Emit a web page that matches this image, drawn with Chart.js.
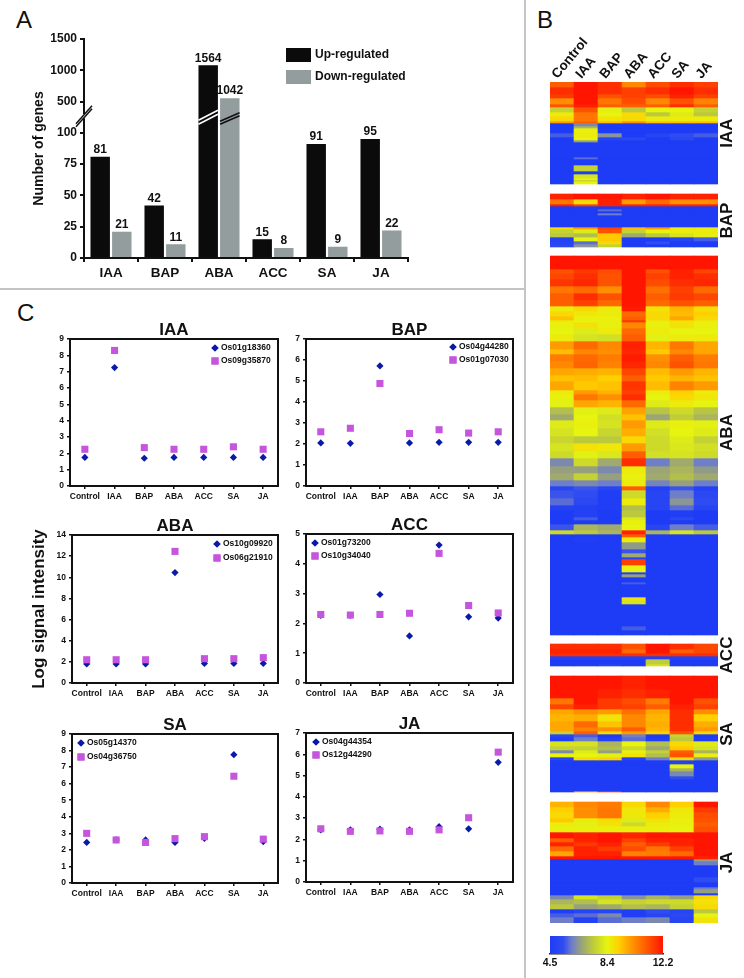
<!doctype html>
<html>
<head>
<meta charset="utf-8">
<title>Phytohormone responsive genes</title>
<script src="https://cdn.jsdelivr.net/npm/chart.js@4"></script>
<style>
html,body{margin:0;background:#fff}
body{position:relative;width:744px;height:978px;overflow:hidden;font-family:"Liberation Sans",Arial,sans-serif}
canvas{position:absolute}
.letter{position:absolute;font-size:24px;line-height:24px;color:#111}
.rule{position:absolute;background:#c4c4c4}
</style>
</head>
<body>
<div class="rule" style="left:0;top:288px;width:524px;height:2px"></div>
<div class="rule" style="left:524px;top:0;width:2px;height:978px"></div>
<div class="letter" style="left:16px;top:8px">A</div>
<div class="letter" style="left:537px;top:8px">B</div>
<div class="letter" style="left:17px;top:301px">C</div>
<script>
// panel A
const hormones = ["IAA","BAP","ABA","ACC","SA","JA"];
const upHeights = [81,42,1080,15,91,95];
const downHeights = [21,11,555,8,9,22];
const upLabels = [81,42,1564,15,91,95];
const downLabels = [21,11,1042,8,9,22];
const axisTicksA = ["0","25","50","75","100","500","1000","1500"];

// panel C
const samples = ["Control","IAA","BAP","ABA","ACC","SA","JA"];
const iaaGenes = ["Os01g18360","Os09g35870"];
const iaaBlue = [1.75,7.25,1.7,1.75,1.75,1.75,1.75];
const iaaPink = [2.25,8.3,2.35,2.25,2.25,2.4,2.25];
const bapGenes = ["Os04g44280","Os01g07030"];
const bapBlue = [2.05,2.03,5.72,2.05,2.08,2.08,2.08];
const bapPink = [2.58,2.75,4.88,2.5,2.68,2.52,2.58];
const abaGenes = ["Os10g09920","Os06g21910"];
const abaBlue = [1.8,1.8,1.8,10.45,1.85,1.85,1.85];
const abaPink = [2.2,2.2,2.2,12.45,2.3,2.3,2.4];
const accGenes = ["Os01g73200","Os10g34040"];
const accBlue = [2.27,2.27,2.97,1.58,4.63,2.22,2.18];
const accPink = [2.3,2.28,2.3,2.34,4.35,2.6,2.35];
const saGenes = ["Os05g14370","Os04g36750"];
const saBlue = [2.45,2.6,2.6,2.45,2.7,7.75,2.5];
const saPink = [3,2.6,2.45,2.68,2.8,6.45,2.65];
const jaGenes = ["Os04g44354","Os12g44290"];
const jaBlue = [2.45,2.45,2.48,2.45,2.6,2.5,5.62];
const jaPink = [2.5,2.38,2.4,2.38,2.45,3.02,6.1];

// panel B: [rows, Control, IAA, BAP, ABA, ACC, SA, JA]
const heatIAA = [
  [5,11,12.2,11.8,10.3,11.3,11.8,11.5],[7,11.8,12.2,11.8,11.5,11.8,12.2,11.8],[4,11.6,12.2,11.2,11.5,11.3,12,11.5],
  [6,10.2,12.2,10.6,11.3,10.3,11.2,10.4],[3,11.2,12,11,11,11,11.8,11],[5,7.6,11.2,8.3,7.4,8.4,8.4,7.6],
  [4,8.6,10.6,8.4,9,7.4,8.2,7.4],[5,9,10.6,8.8,9,8.6,8.6,8.6],[2,10,11,9.5,10.2,9.5,9.5,9.5],
  [3,4.5,6.2,4.5,4.5,4.5,4.5,4.5],[2,4.5,7,4.5,4.5,4.5,4.5,4.5],[5,4.5,8.5,4.5,4.5,4.5,4.5,4.5],
  [4,5.6,8.6,6.4,4.5,5,5.4,5.6],[3,4.5,8.4,5,5.2,4.5,5.2,4.5],[2,4.5,6.6,4.5,4.5,4.5,4.5,4.5],
  [15,4.5,4.5,4.5,4.5,4.5,4.5,4.5],[2,4.5,5.8,4.5,4.5,4.5,4.5,4.5],[6,4.5,4.5,4.5,4.5,4.5,4.5,4.5],
  [6,4.5,7.6,4.5,4.5,4.5,4.5,4.5],[3,4.5,4.5,4.5,4.5,4.5,4.5,4.5],[4,4.5,8,4.5,4.5,4.5,4.5,4.5],
  [2,4.5,8.4,4.5,4.5,4.5,4.5,4.5],[1,4.5,7.4,4.5,4.5,4.5,4.5,4.5],[3,4.5,8.4,4.5,4.5,4.5,4.5,4.5]
];
const heatBAP = [
  [5,12,12.2,12.2,12,12.2,12,12],[5,10.6,9,12,10,10.8,10.2,10.2],[2,12,11.5,12,12,12,12,12],
  [3,4.5,4.5,4.5,4.5,4.5,4.5,4.5],[2,4.5,4.5,5.8,4.5,4.5,4.5,4.5],[2,4.5,4.5,4.5,4.5,4.5,4.5,4.5],
  [2,4.5,4.5,6,4.5,4.5,4.5,4.5],[12,4.5,4.5,4.5,4.5,4.5,4.5,4.5],[2,9,10,11.5,9.5,10,8.6,8.6],
  [4,7.6,8.2,11.2,7.6,8.5,8.6,8.6],[4,7.4,7.2,9.3,6.8,7.4,8,8.3],[4,4.8,8.4,9.3,4.5,4.5,5,5.6],
  [3,5,5.8,9,4.5,5.4,4.5,4.5],[3,5.2,6.4,7.6,4.5,4.5,4.5,4.5]
];
const heatABA = [
  [13,12.2,12.2,12.2,12.2,12.2,12.2,12.2],[4,11.2,11.6,11.3,12.2,11.2,12,11.4],[6,11.4,11.8,11.2,12.2,11.5,12,11.8],
  [7,11.7,11.9,11.2,12.2,11.3,11.8,11.9],[7,10.6,10.8,10.2,12.2,10.7,11.5,10.8],[7,11,11.8,11.2,12.2,11,11.6,11.4],
  [6,11,11.5,10.8,12.2,10.8,11.2,11],[5,8.6,9,8.6,12.1,8.8,9.6,8.9],[5,9,8.7,8.6,10.8,9,9.5,9.2],
  [4,9.4,8.5,8.5,11,9,9.8,9],[2,8.6,8.4,8.5,11.7,8.6,8.8,8.6],[6,8.5,8.8,8.5,10.3,8.5,8.8,8.5],
  [6,8.4,8.2,8.6,10.8,8.6,8.4,8.4],[7,8.6,8,7.9,11,8.3,8.6,8.6],[8,10,10.8,10.3,12,9.6,10.6,9.8],
  [5,9.5,10.3,10.2,11.9,9.3,10.3,9.8],[7,10.5,10.8,10.5,12.1,10.2,11,10.5],[7,10.3,10.9,10.4,11.9,10.3,11.2,10.6],
  [7,9.8,9.7,9.6,11.4,9.5,10,9.6],[6,9.4,9.5,9.2,11,9.3,9.6,9.4],[9,9.8,9.3,9.4,11.7,9.5,10.4,10],
  [4,8.6,10,9.6,11.5,8.6,9.2,8.6],[6,8.5,10.6,10.2,11.8,8.4,9,8.7],[7,8.3,9.8,9.6,10.8,8.2,8.6,8.4],
  [7,7.2,8.3,8.2,9.9,7.3,7.8,7.3],[6,6.8,8.4,7.9,9.4,6.7,7.5,7],[8,8.2,8.5,8,10,8.2,8.5,8.3],
  [8,8,8.4,7.7,9.7,7.9,8.4,8.2],[7,7.7,7.4,7.4,9,7.8,8.2,7.6],[8,8,8.8,8.7,10,7.8,8.1,7.9],
  [7,7.8,8.3,8.1,11,7.9,8,7.8],[8,6.2,7.8,6.8,11.8,6,6.8,6],[7,6.6,6.6,6.2,8.6,6.7,7,6.5],
  [7,6.8,7.6,6.6,8.5,6.8,7.2,6.8],[6,6,6.2,6,8.6,6.1,6.6,6],[4,5,5.5,5,11,4.7,5.5,4.8],
  [8,5.5,5.4,4.6,7.8,5,6,5.2],[7,5.8,5.2,4.6,8.6,5,6.4,5.4],[5,4.8,4.7,4.6,7.2,5,5.8,5],
  [7,4.5,4.8,4.5,7.4,4.5,4.6,4.5],[3,4.5,5.6,4.5,8.2,4.5,5.2,4.5],[4,4.5,4.5,4.5,8.5,4.5,4.5,4.5],
  [6,5.5,7,6.8,8.4,5,6,5.6],[4,7.8,7.4,7,12,7,8,7.4],[3,4.5,4.5,4.5,11,4.5,4.5,4.5],
  [5,4.5,4.6,4.5,8.6,4.5,4.5,4.5],[7,4.5,4.5,4.5,6.5,4.5,4.5,4.5],[4,4.5,4.5,4.5,5.5,4.5,4.5,4.5],
  [4,4.5,4.5,4.5,6.8,4.5,4.5,4.5],[2,4.5,4.5,4.5,5,4.5,4.5,4.5],[6,4.5,4.5,4.5,11.5,4.5,4.5,4.5],
  [7,4.5,4.5,4.5,8.4,4.5,4.5,4.5],[2,4.5,4.5,4.5,4.8,4.5,4.5,4.5],[3,4.5,4.5,4.5,6.6,4.5,4.5,4.5],
  [5,4.5,4.5,4.5,4.5,4.5,4.5,4.5],[2,4.5,4.5,4.5,5.6,4.5,4.5,4.5],[13,4.5,4.5,4.5,4.5,4.5,4.5,4.5],
  [3,4.5,4.5,4.5,8.8,4.5,4.5,4.5],[4,4.5,4.5,4.5,8,4.5,4.5,4.5],[22,4.5,4.5,4.5,4.5,4.5,4.5,4.5],
  [4,4.5,4.5,4.5,5.6,4.5,4.5,4.5],[5,4.5,4.5,4.5,4.5,4.5,4.5,4.5]
];
const heatACC = [
  [5,11.8,11.8,11.8,11.2,12.2,11.8,11.4],[4,12,12,12,10.8,12.2,11,11.4],[3,11.8,11.8,11.8,11.8,11.8,11.8,11.8],
  [3,4.7,4.7,4.7,4.7,4.7,4.7,4.7],[5,4.5,4.5,4.5,4.5,7.5,4.5,4.5],[2,4.5,4.6,5,4.5,8,4.5,4.5]
];
const heatSA = [
  [13,12.2,12.2,12.2,12,12.2,12.2,12.2],[9,12.2,12.2,12,11.8,12,12.2,12.2],[6,10.6,12.2,11.6,11.3,10.5,12.2,11.2],
  [5,11.4,12,11.6,11.5,11,12,11.5],[5,9.8,10.2,10,10.7,9.8,11.8,10.2],[7,9.6,9.7,8.8,10.3,9.6,11.8,9.2],
  [6,9.8,10.8,9.4,10.3,9.7,11.8,9.7],[4,9.8,10.4,10.2,11,9.6,11.8,10],[3,7.6,11,9,10,9.2,11.2,9],
  [3,5,5.6,4.5,6,4.5,7.6,4.5],[4,4.6,6,4.8,5.8,4.6,7.4,4.6],[5,8,8,7,8.4,7.2,9,8.2],
  [4,7.6,7.6,7.2,7.8,6.8,9.3,8],[3,6.2,8.2,6.6,8.5,7.6,11,7],[4,8.4,8.4,8.3,8.8,7.2,11.2,8.5],
  [3,5,9,9.2,4.8,6,9,6.5],[4,4.5,4.5,4.5,4.5,4.5,4.8,4.5],[4,4.5,4.5,4.5,4.5,4.5,8.4,4.5],
  [3,4.5,4.5,4.5,4.5,4.5,7,4.5],[5,4.5,4.5,4.5,4.5,4.5,6.2,4.5],[3,4.5,4.5,4.5,4.5,4.5,5.4,4.5],
  [12,4.5,4.5,4.5,4.5,4.5,4.5,4.5],[1,4.5,10,11.5,4.5,4.5,4.5,4.5]
];
const heatJA = [
  [5,9.6,10.3,10.5,9,10.3,9.2,12.2],[5,9.2,10.2,10.6,8.7,9.7,8.7,11.6],[6,9,10.2,10.6,8.7,9.2,8.6,11.3],
  [4,9.3,8.6,8.9,8.2,8.8,8.5,11.2],[4,8.6,8.3,8.8,7.8,8.6,8.5,11],[6,8.5,8.5,8.5,8.5,8.5,8.4,11.2],
  [6,12.2,12,12.2,12,12.2,12.2,12.2],[4,11,12,12.2,11.5,12,12,12.2],[4,12,11.6,12,11,11.6,12,12.2],
  [5,10.8,12,11.6,11.3,10.6,11.5,12.2],[5,9.8,12,12,10.4,10.5,10.8,12.2],[3,12.2,12.2,12.2,12.2,12.2,12.2,12],
  [2,4.5,4.5,4.5,4.5,4.5,4.5,6.6],[4,4.5,4.5,4.5,4.5,4.5,4.5,6],[12,4.5,4.5,4.5,4.5,4.5,4.5,4.5],
  [5,4.5,4.5,4.5,4.5,4.5,4.5,5.4],[5,4.5,4.5,4.5,4.5,4.5,4.5,4.5],[2,4.5,4.5,4.5,4.5,4.5,4.5,6],
  [4,4.5,4.5,4.5,4.5,4.5,4.5,6.6],[2,4.5,4.5,4.5,4.5,4.5,4.5,4.6],[4,6.2,8,7.6,6.4,7,6.6,9],
  [5,7,7.2,8,7.6,7.8,7.8,8.8],[5,7.4,6.6,6.8,7.2,7,7.6,9],[4,4.6,5,5,4.6,5.4,5,7.4],
  [4,5.6,5.8,6.2,4.6,5,5.2,8.4],[6,6,4.8,5.8,6,6.2,5,8.8]
];
const heatBlocks = [heatIAA,heatBAP,heatABA,heatACC,heatSA,heatJA];
const heatGaps = [10,9,9,10,10,0];
const heatStops = [4.5,5.4,6,6.6,7.4,8.4,9.2,10,10.8,11.6,12.2];
const heatColors = ["#1e3cf5","#2f4cf2","#6f7ec8","#97a07e","#bcc93c","#e6f40f","#ffd000","#ff9a00","#ff6a00","#ff3a00","#ff1500"];
const colorbarTicks = [4.5,8.4,12.2];

Chart.defaults.font.family = '"Liberation Sans", Arial, sans-serif';
Chart.defaults.font.weight = "bold";
Chart.defaults.color = "#111";
Chart.defaults.animation = false;
Chart.defaults.responsive = false;
Chart.defaults.plugins.legend.display = false;
Chart.defaults.plugins.tooltip.enabled = false;

function mount(left, top, width, height){
  const c = document.createElement("canvas");
  c.width = width; c.height = height;
  c.style.left = left+"px"; c.style.top = top+"px";
  document.body.appendChild(c);
  return c;
}

// force the axis box so the plot area lands where it should
function pin(prop, size){
  return s => {
    s[prop] = size;
    s.paddingLeft = s.paddingRight = s.paddingTop = s.paddingBottom = 0;
  };
}

function heatColor(v){
  let i = 0;
  while(i < heatStops.length-2 && v > heatStops[i+1]) i++;
  const t = (v-heatStops[i])/(heatStops[i+1]-heatStops[i]);
  const hex = h => [1,3,5].map(k => parseInt(h.substr(k,2),16));
  const a = hex(heatColors[i]), b = hex(heatColors[i+1]);
  return "rgb("+a.map((x,k) => Math.round(x+(b[k]-x)*t)).join(",")+")";
}

/* ---------- A ---------- */
function toAxis(v){
  if(v <= 100) return v;
  if(v <= 500) return 100+(v-100)/400*25;
  return 125+(v-500)/500*25;
}

const barTexts = {
  id:"barTexts",
  afterDatasetsDraw(chart){
    const ctx = chart.ctx, y = chart.scales.y;
    ctx.save();
    ctx.textAlign = "center";
    ctx.textBaseline = "bottom";
    ctx.font = 'bold 12px "Liberation Sans"';
    ctx.fillStyle = "#111";
    [upLabels,downLabels].forEach((labels,d) => {
      chart.getDatasetMeta(d).data.forEach((bar,i) => ctx.fillText(labels[i], bar.x, bar.y-1));
    });
    // legend
    [["Up-regulated","#0b0b0b",48],["Down-regulated","#939d9d",70]].forEach(([name,col,top]) => {
      ctx.fillStyle = col;
      ctx.fillRect(286,top,25,14);
      ctx.fillStyle = "#111";
      ctx.textAlign = "left";
      ctx.textBaseline = "middle";
      ctx.fillText(name,315,top+7);
    });
    // axis break and bar breaks
    const mid = y.getPixelForValue(112.5)-1;
    const ax = chart.chartArea.left;
    ctx.fillStyle = "#fff";
    ctx.fillRect(ax-2,mid-2,4,4);
    ctx.strokeStyle = "#111"; ctx.lineWidth = 1.5;
    [-1.5,1.5].forEach(d => {
      ctx.beginPath(); ctx.moveTo(ax-8,mid+9+d); ctx.lineTo(ax+8,mid-9+d); ctx.stroke();
    });
    const b1 = chart.getDatasetMeta(0).data[2], b2 = chart.getDatasetMeta(1).data[2];
    ctx.lineWidth = 1.6;
    ctx.strokeStyle = "#fff";
    [-2,2].forEach(d => {
      ctx.beginPath();
      ctx.moveTo(b1.x-b1.width/2, mid+6+d);
      ctx.lineTo(b1.x+b1.width/2, mid-4+d);
      ctx.stroke();
    });
    ctx.strokeStyle = "#111";
    [-1.5,1.5].forEach(d => {
      ctx.beginPath();
      ctx.moveTo(b2.x-b2.width/2, mid+6.5+d);
      ctx.lineTo(b2.x+b2.width/2, mid-2+d);
      ctx.stroke();
    });
    ctx.restore();
  }
};

new Chart(mount(0,0,520,285),{
  type:"bar",
  data:{labels:hormones,datasets:[
    {data:upHeights.map(toAxis),backgroundColor:"#0b0b0b"},
    {data:downHeights.map(toAxis),backgroundColor:"#939d9d"}
  ]},
  options:{
    layout:{padding:{left:0,top:39,right:112,bottom:0}},
    scales:{
      x:{
        afterFit:pin("height",27),
        grid:{drawOnChartArea:false,color:"#111",lineWidth:2,tickLength:4},
        border:{color:"#111",width:2},
        ticks:{font:{size:13.5},padding:3,autoSkip:false,maxRotation:0}
      },
      y:{
        min:0,max:175,
        afterFit:pin("width",84),
        grid:{drawOnChartArea:false,color:"#111",lineWidth:2,tickLength:4},
        border:{color:"#111",width:2},
        ticks:{stepSize:25,font:{size:12},padding:3,autoSkip:false,callback:v => axisTicksA[v/25]},
        title:{display:true,text:"Number of genes",font:{size:14},padding:{top:31,bottom:0}}
      }
    }
  },
  plugins:[barTexts]
});

/* ---------- B ---------- */
const heatSets = [], heatRanges = [];
let heatRow = 0;
heatBlocks.forEach((block,b) => {
  const start = heatRow;
  block.forEach(([rows,...vals]) => {
    const from = heatRow;
    heatSets.push({data:vals.map(() => [from,from+rows]),backgroundColor:vals.map(heatColor)});
    heatRow += rows;
  });
  heatRanges.push((start+heatRow)/2);
  heatRow += heatGaps[b];
});
const heatLabelShift = [0,0,-13,0,0,0];

const heatLabels = {
  id:"heatLabels",
  afterDatasetsDraw(chart){
    const ctx = chart.ctx, y = chart.scales.y;
    ctx.save();
    ctx.font = 'bold 17px "Liberation Sans"';
    ctx.fillStyle = "#111";
    ctx.textAlign = "center";
    ctx.textBaseline = "middle";
    hormones.forEach((name,i) => {
      ctx.save();
      ctx.translate(chart.chartArea.right+9, y.getPixelForValue(heatRanges[i]+heatLabelShift[i]));
      ctx.rotate(-Math.PI/2);
      ctx.fillText(name,0,0);
      ctx.restore();
    });
    ctx.restore();
  }
};

new Chart(mount(530,0,214,930),{
  type:"bar",
  data:{labels:samples,datasets:heatSets},
  options:{
    layout:{padding:{left:20,right:26,top:0,bottom:7}},
    datasets:{bar:{grouped:false,categoryPercentage:1,barPercentage:1,borderSkipped:false,borderWidth:0}},
    scales:{
      x:{
        position:"top",
        afterFit:pin("height",82),
        grid:{display:false,tickLength:0},
        border:{display:false},
        ticks:{font:{size:13.5},minRotation:50,maxRotation:50,autoSkip:false,padding:0,labelOffset:5}
      },
      y:{min:0,max:heatRow,reverse:true,display:false}
    }
  },
  plugins:[heatLabels]
});

new Chart(mount(530,930,150,45),{
  type:"bar",
  data:{labels:["scale"],datasets:[{
    data:[[colorbarTicks[0],colorbarTicks[2]]],
    borderSkipped:false,
    categoryPercentage:1,barPercentage:1,
    backgroundColor(c){
      const a = c.chart.chartArea;
      if(!a) return null;
      const g = c.chart.ctx.createLinearGradient(a.left,0,a.right,0);
      heatStops.forEach((v,i) => g.addColorStop((v-4.5)/7.7,heatColors[i]));
      return g;
    }
  }]},
  options:{
    indexAxis:"y",
    layout:{padding:{left:20,right:17,top:6,bottom:0}},
    scales:{
      x:{
        min:4.5,max:12.2,
        afterFit:pin("height",21),
        afterBuildTicks(s){ s.ticks = colorbarTicks.map(value => ({value})); },
        grid:{display:false,tickLength:0},
        border:{color:"#222",width:1.5},
        ticks:{font:{size:10.5},padding:3,autoSkip:false,maxRotation:0,callback:v => v.toFixed(1)}
      },
      y:{display:false}
    }
  }
});

/* ---------- C ---------- */
function scatterPanel(opt){
  const {title,genes,blue,pink,max,step,left,right,top,bottom,legendX,legendY} = opt;
  const margin = opt.margin || 30;
  const cLeft = left-margin, cTop = top-20;
  const cW = right-cLeft+8, cH = bottom-cTop+20;
  const frame = {
    id:"frame",
    beforeDatasetsDraw(chart){
      const a = chart.chartArea, ctx = chart.ctx;
      ctx.save();
      ctx.strokeStyle = "#111"; ctx.lineWidth = 2;
      ctx.strokeRect(a.left,a.top,a.right-a.left,a.bottom-a.top);
      ctx.restore();
    },
    afterDatasetsDraw(chart){
      const ctx = chart.ctx;
      ctx.save();
      ctx.font = 'bold 8.5px "Liberation Sans"';
      ctx.textBaseline = "middle";
      ctx.textAlign = "left";
      [[genes[0],"#0a1aa8","rectRot",3.6],[genes[1],"#c455dc","rect",5]].forEach(([name,col,style,r],i) => {
        const x = legendX-cLeft, y = legendY[i]-cTop;
        ctx.fillStyle = col;
        Chart.helpers.drawPoint(ctx,{pointStyle:style,radius:r,rotation:0,borderWidth:0},x,y);
        ctx.fill();
        ctx.fillStyle = "#111";
        ctx.fillText(name,x+6,y);
      });
      ctx.restore();
    }
  };
  new Chart(mount(cLeft,cTop,cW,cH),{
    type:"line",
    data:{labels:samples,datasets:[
      {data:blue,showLine:false,order:2,pointStyle:"rectRot",pointRadius:3.6,backgroundColor:"#0a1aa8",borderColor:"#0a1aa8",pointBorderWidth:0},
      {data:pink,showLine:false,order:1,pointStyle:"rect",pointRadius:5,backgroundColor:"#c455dc",borderColor:"#c455dc",pointBorderWidth:0}
    ]},
    options:{
      layout:{padding:{left:0,right:8,top:3,bottom:0}},
      plugins:{title:{display:true,text:title,fullSize:false,font:{size:17,lineHeight:1},padding:0}},
      scales:{
        x:{
          offset:true,
          afterFit:pin("height",20),
          grid:{offset:false,drawOnChartArea:false,color:"#111",lineWidth:1.5,tickLength:3},
          border:{display:false},
          ticks:{font:{size:8.5},padding:3,autoSkip:false,minRotation:0,maxRotation:0}
        },
        y:{
          min:0,max,
          afterFit:pin("width",margin),
          grid:{drawOnChartArea:false,color:"#111",lineWidth:1.5,tickLength:3},
          border:{display:false},
          ticks:{stepSize:step,font:{size:8.5},padding:3,autoSkip:false},
          title:opt.axisTitle ? {display:true,text:opt.axisTitle,font:{size:17},padding:{top:29,bottom:0}} : {display:false}
        }
      }
    },
    plugins:[frame]
  });
}

scatterPanel({title:"IAA",genes:iaaGenes,blue:iaaBlue,pink:iaaPink,max:9,step:1,left:70,right:278,top:339,bottom:486,legendX:215,legendY:[348,361]});
scatterPanel({title:"BAP",genes:bapGenes,blue:bapBlue,pink:bapPink,max:7,step:1,left:306,right:513,top:339,bottom:486,legendX:453,legendY:[347,360]});
scatterPanel({title:"ABA",genes:abaGenes,blue:abaBlue,pink:abaPink,max:14,step:2,left:72,right:278,top:535,bottom:683,legendX:217,legendY:[544,558],margin:72,axisTitle:"Log signal intensity"});
scatterPanel({title:"ACC",genes:accGenes,blue:accBlue,pink:accPink,max:5,step:1,left:306,right:513,top:534,bottom:683,legendX:315,legendY:[543,556]});
scatterPanel({title:"SA",genes:saGenes,blue:saBlue,pink:saPink,max:9,step:1,left:72,right:278,top:734,bottom:883,legendX:81,legendY:[743,757]});
scatterPanel({title:"JA",genes:jaGenes,blue:jaBlue,pink:jaPink,max:7,step:1,left:306,right:513,top:733,bottom:882,legendX:316,legendY:[742,755]});
</script>
</body>
</html>
